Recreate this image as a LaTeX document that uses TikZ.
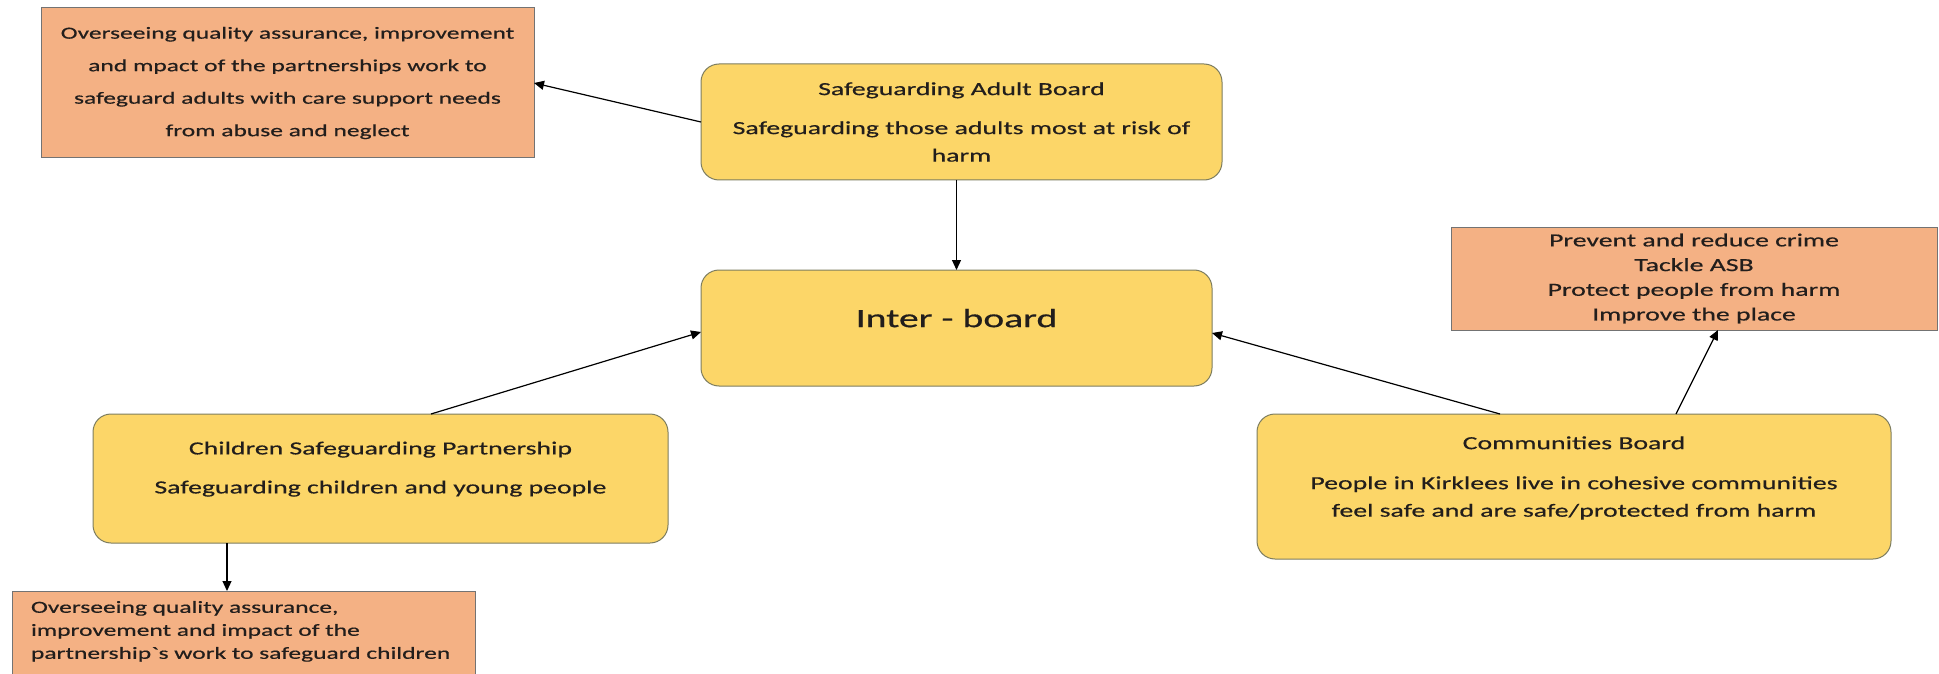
\documentclass[tikz,border=0pt]{standalone}
\usepackage{fontspec}
\newfontfamily\boardfont{Carlito}[FakeStretch=1.5,FakeBold=0.5]
\usetikzlibrary{arrows.meta}
\definecolor{boardfill}{RGB}{252,214,104}
\definecolor{boardline}{RGB}{125,125,95}
\definecolor{aimfill}{RGB}{244,177,132}
\definecolor{aimline}{RGB}{115,115,115}
\definecolor{inkgrey}{RGB}{34,30,28}

\begin{document}
\begin{tikzpicture}[x=1pt,y=-1pt,
  board/.style={draw=boardline,fill=boardfill,rounded corners=18pt,line width=1pt,
    text=inkgrey,align=center,font=\boardfont\fontsize{18.5}{27.5}\selectfont,outer sep=0pt},
  aim/.style={draw=aimline,fill=aimfill,line width=1pt,text=inkgrey,align=center,
    font=\boardfont\fontsize{17}{24.7}\selectfont,outer sep=0pt},
  link/.style={draw=black,line width=1.2pt,-{Triangle[length=10pt,width=9pt]}}]
 \path[use as bounding box,clip] (0,0) rectangle (1939,674);
 \fill[white] (0,0) rectangle (1939,674);

 % boards
 \node[board,minimum width=521pt,minimum height=116pt] (sab) at (961.5,122)
   {Safeguarding Adult Board\\[11.5pt]Safeguarding those adults most at risk of\\harm};
 \node[board,minimum width=511pt,minimum height=116pt,text depth=20pt,
   font=\boardfont\fontsize{26.4}{32}\selectfont] (ib) at (956.5,328) {Inter - board};
 \node[board,minimum width=575pt,minimum height=129pt,text depth=22pt] (csp) at (380.5,478.5)
   {Children Safeguarding Partnership\\[11.5pt]Safeguarding children and young people};
 \node[board,minimum width=634pt,minimum height=145pt,text depth=20pt] (cb) at (1574,486.5)
   {Communities Board\\[12.5pt]People in Kirklees live in cohesive communities\\feel safe and are safe/protected from harm};

 % aims
 \node[aim,minimum width=493pt,minimum height=150pt,
   font=\boardfont\fontsize{17}{32.5}\selectfont] (sabqa) at (287.5,83)
   {Overseeing quality assurance, improvement\\and mpact of the partnerships work to\\safeguard adults with care support needs\\from abuse and neglect};
 \node[aim,minimum width=486pt,minimum height=103pt,
   font=\boardfont\fontsize{18.5}{24.7}\selectfont] (cbaim) at (1694,278.5)
   {Prevent and reduce crime\\Tackle ASB\\Protect people from harm\\Improve the place};
 \node[aim,anchor=north west,text width=425pt,align=left,inner xsep=19pt,inner ysep=10pt,
   text depth=60pt,font=\boardfont\fontsize{17}{23}\selectfont] (cspqa) at (12,591)
   {Overseeing quality assurance,\\improvement and impact of the\\partnership`s work to safeguard children};

 % links
 \draw[link] (sab.west) -- (sabqa.east);
 \draw[link] (sab.south -| ib.north) -- (ib.north);
 \draw[link] ([xshift=50.5pt]csp.north) -- ([yshift=-4pt]ib.west);
 \draw[link] ([xshift=-74pt]cb.north) -- ([yshift=-5pt]ib.east);
 \draw[link] ([xshift=102pt]cb.north) -- ([xshift=24pt]cbaim.south);
 \coordinate (cspfoot) at ([xshift=-153.5pt]csp.south);
 \draw[link] (cspfoot) -- (cspfoot |- cspqa.north);
\end{tikzpicture}
\end{document}
